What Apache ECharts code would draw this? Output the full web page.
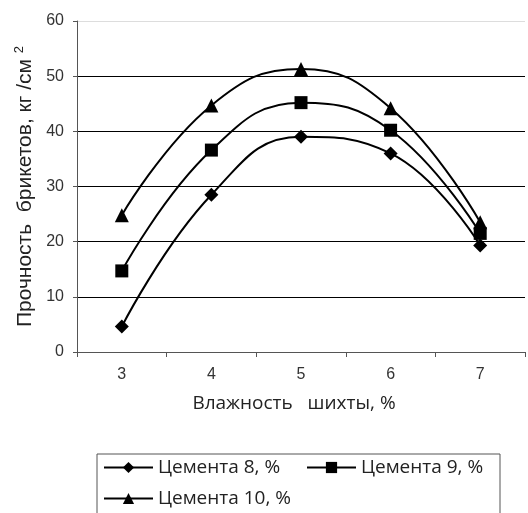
<!DOCTYPE html>
<html>
<head>
<meta charset="utf-8">
<script src="https://cdn.jsdelivr.net/npm/echarts@6/dist/echarts.min.js"></script>
<style>
  html, body { margin: 0; padding: 0; background: #fff; }
  #chart { width: 528px; height: 513px; }
</style>
</head>
<body>
<div id="chart"></div>
<script>
// влажность шихты, %
var categories = ['3', '4', '5', '6', '7'];
// прочность брикетов по содержанию цемента
var cement8 = [4.6, 28.5, 39.0, 36.0, 19.3];
var cement9 = [14.7, 36.6, 45.2, 40.2, 21.5];
var cement10 = [24.8, 44.7, 51.3, 44.2, 23.5];
var seriesNames = ['Цемента 8, %', 'Цемента 9, %', 'Цемента 10, %'];
var yTicks = [0, 10, 20, 30, 40, 50, 60];

var chart = echarts.init(document.getElementById('chart'));

function makeSeries(name, data, symbol, size) {
  return {
    name: name,
    type: 'line',
    data: data,
    smooth: 0.45,
    symbol: symbol,
    symbolSize: size,
    color: '#000',
    lineStyle: { color: '#000', width: 2 },
    itemStyle: { color: '#000' }
  };
}

var option = {
  animation: false,
  backgroundColor: '#fff',
  grid: { left: 77, right: 3, top: 21, bottom: 161 },
  xAxis: {
    type: 'category',
    data: categories,
    boundaryGap: true,
    name: 'Влажность   шихты, %',
    nameLocation: 'middle',
    nameGap: 42,
    nameTextStyle: { fontFamily: 'Open Sans', fontSize: 19, color: '#222', padding: [0, 14, 0, 0] },
    axisLine: { lineStyle: { color: '#555', width: 1 } },
    axisTick: { show: true, length: 5, lineStyle: { color: '#555' } },
    axisLabel: { margin: 15, fontFamily: 'Liberation Sans', fontSize: 16, color: '#333' }
  },
  yAxis: {
    type: 'value',
    min: yTicks[0],
    max: yTicks[yTicks.length - 1],
    interval: 10,
    name: '{a|Прочность  брикетов, кг /см }{s|2}',
    nameLocation: 'middle',
    nameRotate: 90,
    nameGap: 40,
    nameTextStyle: {
      rich: {
        a: { fontFamily: 'Liberation Sans', fontSize: 21, color: '#222', lineHeight: 24 },
        s: { fontFamily: 'Liberation Sans', fontSize: 13, color: '#222', verticalAlign: 'top', lineHeight: 24 }
      }
    },
    axisLine: { show: true, lineStyle: { color: '#555', width: 1 } },
    axisTick: { show: true, length: 4, lineStyle: { color: '#555' } },
    axisLabel: { margin: 13, fontFamily: 'Liberation Sans', fontSize: 16, color: '#333' },
    splitLine: {
      lineStyle: { color: ['#000', '#000', '#000', '#000', '#000', '#000', '#ddd'], width: 1 }
    }
  },
  legend: {
    data: seriesNames,
    left: 97,
    top: 454,
    width: 400,
    orient: 'horizontal',
    padding: [2, -1, 40, 6],
    itemGap: 8,
    itemWidth: 49,
    itemHeight: 14,
    borderColor: '#555',
    borderWidth: 1,
    backgroundColor: '#fff',
    textStyle: { fontFamily: 'Open Sans', fontSize: 19, color: '#222', width: 140, lineHeight: 23 }
  },
  series: [
    makeSeries(seriesNames[0], cement8, 'diamond', 14),
    makeSeries(seriesNames[1], cement9, 'rect', 13),
    makeSeries(seriesNames[2], cement10, 'triangle', 14)
  ]
};

chart.setOption(option);
</script>
</body>
</html>
